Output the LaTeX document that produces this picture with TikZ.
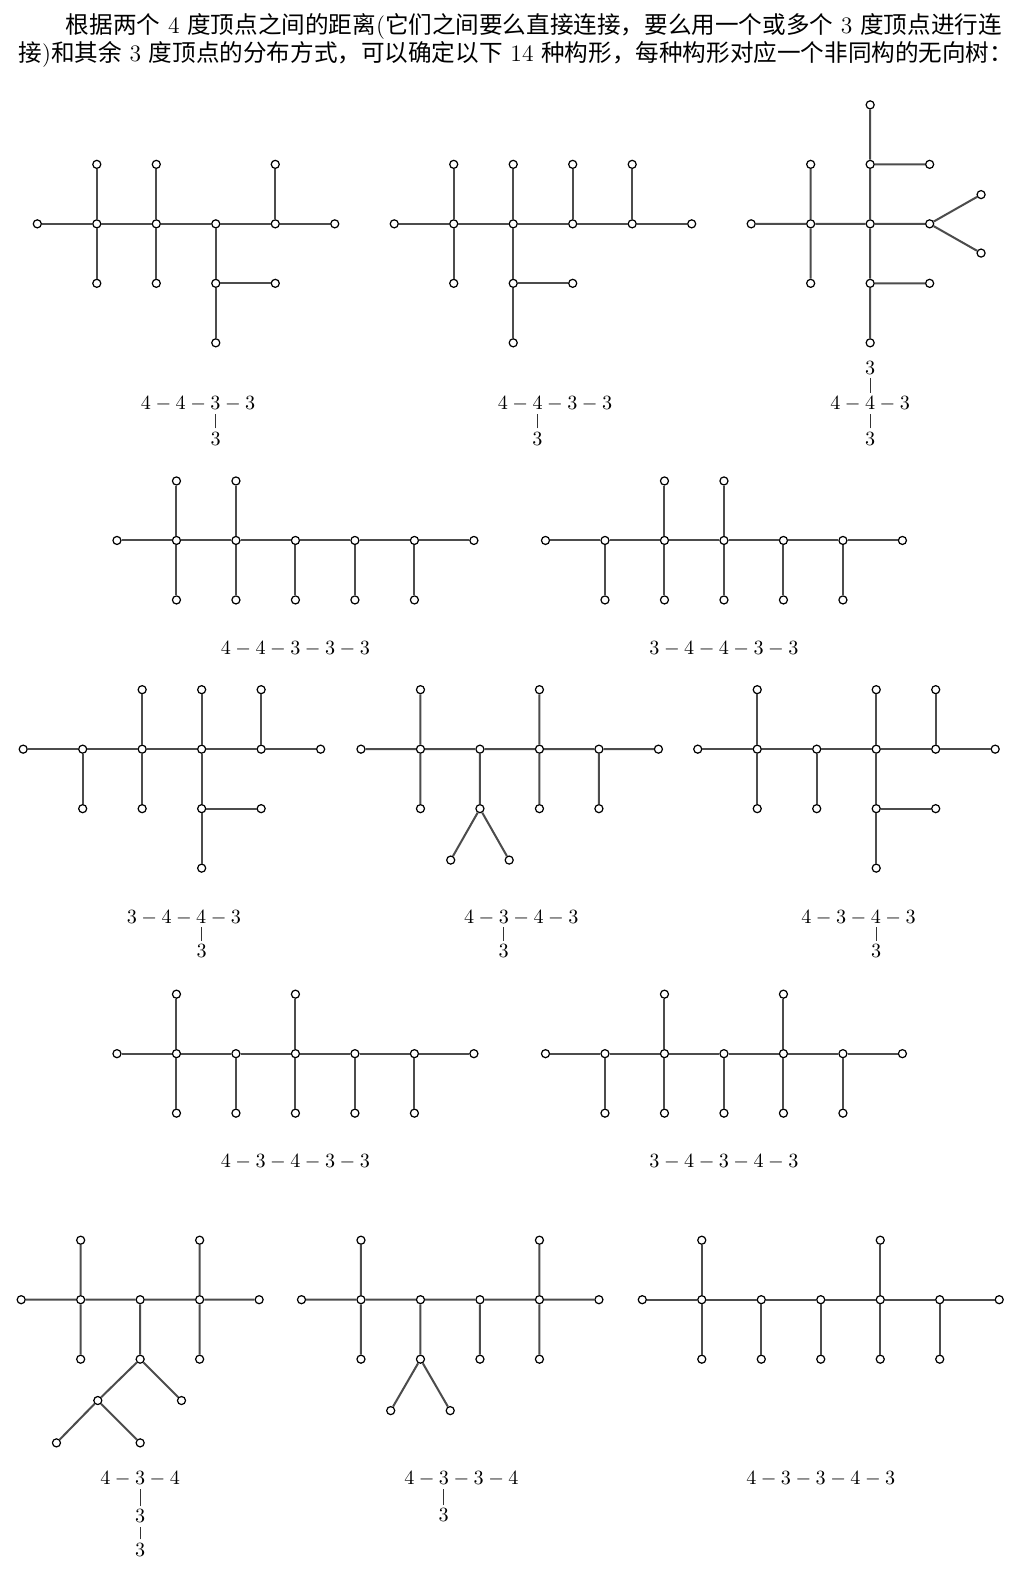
\documentclass[tikz,border=0pt]{standalone}
\usepackage{fontspec}
\newfontfamily\cjk{Noto Sans CJK SC}
\usetikzlibrary{positioning}

\begin{document}
\begin{tikzpicture}[
    x=0.5pt, y=-0.5pt,
    % Styles
    vtx/.style={
        circle, draw, fill=white, line width=0.6pt,
        minimum size=4pt, inner sep=0pt
    },
    link/.style={
        line width=1pt, black!70
    },
    lbl/.style={
        font=\fontsize{10.2}{12}\selectfont,
        inner sep=1.7pt, text depth=0pt
    },
    vbar/.style={
        line width=0.6pt, black!80
    },
    txt/.style={
        font=\fontsize{11.7}{14}\selectfont,
        inner sep=0pt, anchor=base west
    },
    on grid, node distance=29.5pt
]
\useasboundingbox (0,0) rectangle (1016,1568);

% Intro text
\node[txt] (line1) at (65,33) {{\cjk 根据两个} 4 {\cjk 度顶点之间的距离}({\cjk 它们之间要么直接连接，要么用一个或多个} 3 {\cjk 度顶点进行连}};
\node[txt] (line2) at (18,61) {{\cjk 接}){\cjk 和其余} 3 {\cjk 度顶点的分布方式，可以确定以下} 14 {\cjk 种构形，每种构形对应一个非同构的无向树：}};

% Tree a: 4-4-3-3
\foreach \x [count=\i] in {37,96,...,332} \node[vtx] (a\i) at (\x,222) {};
\node[vtx, above=of a2] (a2u) {};
\node[vtx, below=of a2] (a2d) {};
\node[vtx, above=of a3] (a3u) {};
\node[vtx, below=of a3] (a3d) {};
\node[vtx, below=of a4] (a4d) {};
\node[vtx, below=of a4d] (a4dd) {};
\node[vtx, right=of a4d] (a4r) {};
\node[vtx, above=of a5] (a5u) {};
\draw[link] (a1) -- (a2) -- (a3) -- (a4) -- (a5) -- (a6)
    (a2u) -- (a2) -- (a2d) (a3u) -- (a3) -- (a3d)
    (a4) -- (a4d) -- (a4dd) (a4d) -- (a4r) (a5) -- (a5u);
\node[lbl] (aL) at (196.5,400) {$4-4-3-3$};
\node[lbl] (aP) at (214,435) {$3$};
\draw[vbar] (aP.north) -- (aP.north |- aL.south);

% Tree b: 4-4-3-3
\foreach \x [count=\i] in {391,450,...,686} \node[vtx] (b\i) at (\x,222) {};
\node[vtx, above=of b2] (b2u) {};
\node[vtx, below=of b2] (b2d) {};
\node[vtx, above=of b3] (b3u) {};
\node[vtx, below=of b3] (b3d) {};
\node[vtx, below=of b3d] (b3dd) {};
\node[vtx, right=of b3d] (b3r) {};
\node[vtx, above=of b4] (b4u) {};
\node[vtx, above=of b5] (b5u) {};
\draw[link] (b1) -- (b2) -- (b3) -- (b4) -- (b5) -- (b6)
    (b2u) -- (b2) -- (b2d) (b3u) -- (b3) -- (b3d) -- (b3dd)
    (b3d) -- (b3r) (b4) -- (b4u) (b5) -- (b5u);
\node[lbl] (bL) at (550.5,400) {$4-4-3-3$};
\node[lbl] (bP) at (533,435) {$3$};
\draw[vbar] (bP.north) -- (bP.north |- bL.south);

% Tree c: 4-4-3 with two 3s
\foreach \x [count=\i] in {745,804,...,922} \node[vtx] (c\i) at (\x,222) {};
\node[vtx, above=of c2] (c2u) {};
\node[vtx, below=of c2] (c2d) {};
\node[vtx, above=of c3] (c3u) {};
\node[vtx, above=of c3u] (c3uu) {};
\node[vtx, right=of c3u] (c3ur) {};
\node[vtx, below=of c3] (c3d) {};
\node[vtx, below=of c3d] (c3dd) {};
\node[vtx, right=of c3d] (c3dr) {};
\node[vtx, above right=14.5pt and 25.5pt of c4] (c4a) {};
\node[vtx, below right=14.5pt and 25.5pt of c4] (c4b) {};
\draw[link] (c1) -- (c2) -- (c3) -- (c4)
    (c2u) -- (c2) -- (c2d) (c3uu) -- (c3u) -- (c3) -- (c3d) -- (c3dd)
    (c3u) -- (c3ur) (c3d) -- (c3dr) (c4a) -- (c4) -- (c4b);
\node[lbl] (cL) at (863,400) {$4-4-3$};
\node[lbl] (cQ) at (863,365) {$3$};
\node[lbl] (cP) at (863,435) {$3$};
\draw[vbar] (cQ.south) -- (cQ.south |- cL.north);
\draw[vbar] (cP.north) -- (cP.north |- cL.south);

% Tree d: 4-4-3-3-3
\foreach \x [count=\i] in {116,175,...,470} \node[vtx] (d\i) at (\x,536) {};
\node[vtx, above=of d2] (d2u) {};
\node[vtx, below=of d2] (d2d) {};
\node[vtx, above=of d3] (d3u) {};
\node[vtx, below=of d3] (d3d) {};
\node[vtx, below=of d4] (d4d) {};
\node[vtx, below=of d5] (d5d) {};
\node[vtx, below=of d6] (d6d) {};
\draw[link] (d1) -- (d2) -- (d3) -- (d4) -- (d5) -- (d6) -- (d7)
    (d2u) -- (d2) -- (d2d) (d3u) -- (d3) -- (d3d)
    (d4) -- (d4d) (d5) -- (d5d) (d6) -- (d6d);
\node[lbl] (dL) at (293,643) {$4-4-3-3-3$};

% Tree e: 3-4-4-3-3
\foreach \x [count=\i] in {541,600,...,895} \node[vtx] (e\i) at (\x,536) {};
\node[vtx, below=of e2] (e2d) {};
\node[vtx, above=of e3] (e3u) {};
\node[vtx, below=of e3] (e3d) {};
\node[vtx, above=of e4] (e4u) {};
\node[vtx, below=of e4] (e4d) {};
\node[vtx, below=of e5] (e5d) {};
\node[vtx, below=of e6] (e6d) {};
\draw[link] (e1) -- (e2) -- (e3) -- (e4) -- (e5) -- (e6) -- (e7)
    (e2) -- (e2d) (e3u) -- (e3) -- (e3d) (e4u) -- (e4) -- (e4d)
    (e5) -- (e5d) (e6) -- (e6d);
\node[lbl] (eL) at (718,643) {$3-4-4-3-3$};

% Tree f: 3-4-4-3
\foreach \x [count=\i] in {23,82,...,318} \node[vtx] (f\i) at (\x,743) {};
\node[vtx, below=of f2] (f2d) {};
\node[vtx, above=of f3] (f3u) {};
\node[vtx, below=of f3] (f3d) {};
\node[vtx, above=of f4] (f4u) {};
\node[vtx, below=of f4] (f4d) {};
\node[vtx, below=of f4d] (f4dd) {};
\node[vtx, right=of f4d] (f4r) {};
\node[vtx, above=of f5] (f5u) {};
\draw[link] (f1) -- (f2) -- (f3) -- (f4) -- (f5) -- (f6)
    (f2) -- (f2d) (f3u) -- (f3) -- (f3d) (f4u) -- (f4) -- (f4d) -- (f4dd)
    (f4d) -- (f4r) (f5) -- (f5u);
\node[lbl] (fL) at (182.4,909) {$3-4-4-3$};
\node[lbl] (fP) at (200,943) {$3$};
\draw[vbar] (fP.north) -- (fP.north |- fL.south);

% Tree g: 4-3-4-3
\foreach \x [count=\i] in {358,417,...,653} \node[vtx] (g\i) at (\x,743) {};
\node[vtx, above=of g2] (g2u) {};
\node[vtx, below=of g2] (g2d) {};
\node[vtx, below=of g3] (g3d) {};
\node[vtx, below left=25.5pt and 14.5pt of g3d] (g3l) {};
\node[vtx, below right=25.5pt and 14.5pt of g3d] (g3r) {};
\node[vtx, above=of g4] (g4u) {};
\node[vtx, below=of g4] (g4d) {};
\node[vtx, below=of g5] (g5d) {};
\draw[link] (g1) -- (g2) -- (g3) -- (g4) -- (g5) -- (g6)
    (g2u) -- (g2) -- (g2d) (g3) -- (g3d) (g3l) -- (g3d) -- (g3r)
    (g4u) -- (g4) -- (g4d) (g5) -- (g5d);
\node[lbl] (gL) at (517,909) {$4-3-4-3$};
\node[lbl] (gP) at (499.4,943) {$3$};
\draw[vbar] (gP.north) -- (gP.north |- gL.south);

% Tree h: 4-3-4-3
\foreach \x [count=\i] in {692,751,...,987} \node[vtx] (h\i) at (\x,743) {};
\node[vtx, above=of h2] (h2u) {};
\node[vtx, below=of h2] (h2d) {};
\node[vtx, below=of h3] (h3d) {};
\node[vtx, above=of h4] (h4u) {};
\node[vtx, below=of h4] (h4d) {};
\node[vtx, below=of h4d] (h4dd) {};
\node[vtx, right=of h4d] (h4r) {};
\node[vtx, above=of h5] (h5u) {};
\draw[link] (h1) -- (h2) -- (h3) -- (h4) -- (h5) -- (h6)
    (h2u) -- (h2) -- (h2d) (h3) -- (h3d) (h4u) -- (h4) -- (h4d) -- (h4dd)
    (h4d) -- (h4r) (h5) -- (h5u);
\node[lbl] (hL) at (851.4,909) {$4-3-4-3$};
\node[lbl] (hP) at (869,943) {$3$};
\draw[vbar] (hP.north) -- (hP.north |- hL.south);

% Tree i: 4-3-4-3-3
\foreach \x [count=\i] in {116,175,...,470} \node[vtx] (i\i) at (\x,1045) {};
\node[vtx, above=of i2] (i2u) {};
\node[vtx, below=of i2] (i2d) {};
\node[vtx, below=of i3] (i3d) {};
\node[vtx, above=of i4] (i4u) {};
\node[vtx, below=of i4] (i4d) {};
\node[vtx, below=of i5] (i5d) {};
\node[vtx, below=of i6] (i6d) {};
\draw[link] (i1) -- (i2) -- (i3) -- (i4) -- (i5) -- (i6) -- (i7)
    (i2u) -- (i2) -- (i2d) (i3) -- (i3d) (i4u) -- (i4) -- (i4d)
    (i5) -- (i5d) (i6) -- (i6d);
\node[lbl] (iL) at (293,1151) {$4-3-4-3-3$};

% Tree j: 3-4-3-4-3
\foreach \x [count=\i] in {541,600,...,895} \node[vtx] (j\i) at (\x,1045) {};
\node[vtx, below=of j2] (j2d) {};
\node[vtx, above=of j3] (j3u) {};
\node[vtx, below=of j3] (j3d) {};
\node[vtx, below=of j4] (j4d) {};
\node[vtx, above=of j5] (j5u) {};
\node[vtx, below=of j5] (j5d) {};
\node[vtx, below=of j6] (j6d) {};
\draw[link] (j1) -- (j2) -- (j3) -- (j4) -- (j5) -- (j6) -- (j7)
    (j2) -- (j2d) (j3u) -- (j3) -- (j3d) (j4) -- (j4d)
    (j5u) -- (j5) -- (j5d) (j6) -- (j6d);
\node[lbl] (jL) at (718,1151) {$3-4-3-4-3$};

% Tree k: 4-3-4 with 3-3 hanging
\foreach \x [count=\i] in {21,80,...,257} \node[vtx] (k\i) at (\x,1289) {};
\node[vtx, above=of k2] (k2u) {};
\node[vtx, below=of k2] (k2d) {};
\node[vtx, below=of k3] (k3d) {};
\node[vtx, below right=20.5pt and 20.5pt of k3d] (k3r) {};
\node[vtx, below left=20.5pt and 21pt of k3d] (k3l) {};
\node[vtx, below left=21pt and 20.5pt of k3l] (k3ll) {};
\node[vtx, below right=21pt and 21pt of k3l] (k3lr) {};
\node[vtx, above=of k4] (k4u) {};
\node[vtx, below=of k4] (k4d) {};
\draw[link] (k1) -- (k2) -- (k3) -- (k4) -- (k5)
    (k2u) -- (k2) -- (k2d) (k3) -- (k3d) -- (k3r) (k3d) -- (k3l)
    (k3ll) -- (k3l) -- (k3lr) (k4u) -- (k4) -- (k4d);
\node[lbl] (kL) at (139,1466) {$4-3-4$};
\node[lbl] (kP) at (139,1504) {$3$};
\node[lbl] (kPP) at (139,1537) {$3$};
\draw[vbar] (kP.north) -- (kP.north |- kL.south);
\draw[vbar] (kPP.north) -- (kP.south);

% Tree l: 4-3-3-4
\foreach \x [count=\i] in {299,358,...,594} \node[vtx] (l\i) at (\x,1289) {};
\node[vtx, above=of l2] (l2u) {};
\node[vtx, below=of l2] (l2d) {};
\node[vtx, below=of l3] (l3d) {};
\node[vtx, below left=25.5pt and 14.75pt of l3d] (l3l) {};
\node[vtx, below right=25.5pt and 14.75pt of l3d] (l3r) {};
\node[vtx, below=of l4] (l4d) {};
\node[vtx, above=of l5] (l5u) {};
\node[vtx, below=of l5] (l5d) {};
\draw[link] (l1) -- (l2) -- (l3) -- (l4) -- (l5) -- (l6)
    (l2u) -- (l2) -- (l2d) (l3) -- (l3d) (l3l) -- (l3d) -- (l3r)
    (l4) -- (l4d) (l5u) -- (l5) -- (l5d);
\node[lbl] (lL) at (457.6,1466) {$4-3-3-4$};
\node[lbl] (lP) at (440,1503) {$3$};
\draw[vbar] (lP.north) -- (lP.north |- lL.south);

% Tree m: 4-3-3-4-3
\foreach \x [count=\i] in {637,696,...,991} \node[vtx] (m\i) at (\x,1289) {};
\node[vtx, above=of m2] (m2u) {};
\node[vtx, below=of m2] (m2d) {};
\node[vtx, below=of m3] (m3d) {};
\node[vtx, below=of m4] (m4d) {};
\node[vtx, above=of m5] (m5u) {};
\node[vtx, below=of m5] (m5d) {};
\node[vtx, below=of m6] (m6d) {};
\draw[link] (m1) -- (m2) -- (m3) -- (m4) -- (m5) -- (m6) -- (m7)
    (m2u) -- (m2) -- (m2d) (m3) -- (m3d) (m4) -- (m4d)
    (m5u) -- (m5) -- (m5d) (m6) -- (m6d);
\node[lbl] (mL) at (814,1466) {$4-3-3-4-3$};

\end{tikzpicture}
\end{document}
